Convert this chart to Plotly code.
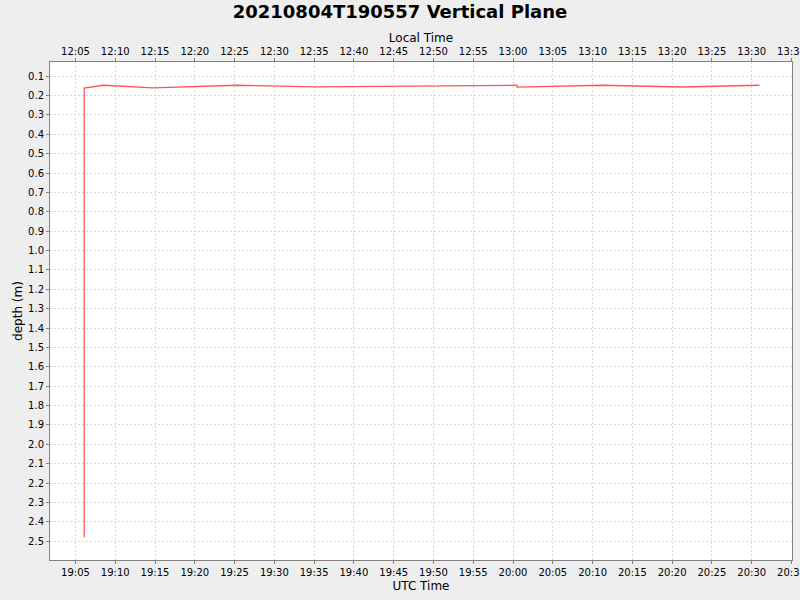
import plotly.graph_objects as go
import pandas as pd

# UTC times of the depth samples
utc_times = [
    "2021-08-04 19:06:06", "2021-08-04 19:06:06", "2021-08-04 19:08:30",
    "2021-08-04 19:14:45", "2021-08-04 19:25:17", "2021-08-04 19:35:08",
    "2021-08-04 20:00:30", "2021-08-04 20:00:31", "2021-08-04 20:11:11",
    "2021-08-04 20:21:13", "2021-08-04 20:30:59",
]
depth_m = [2.479, 0.162, 0.147, 0.161, 0.147, 0.155, 0.147, 0.157, 0.147, 0.156, 0.147]

utc_offset_hours = -7
x_range_utc = ["2021-08-04 19:01:48", "2021-08-04 20:35:04"]
y_range = [2.597, 0.027]

utc = pd.to_datetime(utc_times)
local = utc + pd.Timedelta(hours=utc_offset_hours)
xr = pd.to_datetime(x_range_utc)
xr_local = xr + pd.Timedelta(hours=utc_offset_hours)

FONT = "DejaVu Sans"
AX = "#808080"
GRID = "#D9D9D9"
DASH = "2px,2px"

fig = go.Figure()
fig.add_trace(go.Scatter(x=utc, y=depth_m, mode="lines",
                         line=dict(color="#FF5555", width=1.3),
                         showlegend=False, xaxis="x", yaxis="y"))
fig.add_trace(go.Scatter(x=local, y=depth_m, mode="lines",
                         line=dict(color="rgba(0,0,0,0)", width=0),
                         showlegend=False, hoverinfo="skip", xaxis="x2", yaxis="y"))

common_x = dict(type="date", tickformat="%H:%M", dtick=300000,
                showgrid=True, gridcolor=GRID, griddash=DASH, gridwidth=1,
                showline=True, linecolor=AX, linewidth=1,
                ticks="outside", ticklen=3, tickcolor=AX,
                tickfont=dict(family=FONT, size=10, color="#000000"),
                ticklabeloverflow="allow",
                zeroline=False, automargin=False)

fig.update_layout(
    width=800, height=600,
    paper_bgcolor="#EEEEEE", plot_bgcolor="#FFFFFF",
    margin=dict(l=50, r=8, t=62, b=40),
    font=dict(family=FONT, color="#000000"),
    hovermode=False,
    title=dict(text="<b>20210804T190557 Vertical Plane</b>",
               font=dict(family=FONT, size=18, color="#000000"),
               x=0.5, xanchor="center", yref="container", y=0.98, yanchor="middle",
               automargin=False),
    xaxis=dict(range=list(xr), tick0="2021-08-04 19:05:00",
               title=dict(text="UTC Time", font=dict(family=FONT, size=12), standoff=4),
               **common_x),
    xaxis2=dict(range=list(xr_local), tick0="2021-08-04 12:05:00",
                overlaying="x", side="top", anchor="y",
                title=dict(text="Local Time", font=dict(family=FONT, size=12), standoff=0),
                ticklabelstandoff=-1,
                **common_x),
    yaxis=dict(range=y_range, tick0=0.1, dtick=0.1, tickformat=".1f",
               showgrid=True, gridcolor=GRID, griddash=DASH, gridwidth=1,
               showline=True, linecolor=AX, linewidth=1, mirror=True,
               ticks="outside", ticklen=3, tickcolor=AX,
               tickfont=dict(family=FONT, size=10, color="#000000"),
               title=dict(text="depth (m)", font=dict(family=FONT, size=12), standoff=2),
               zeroline=False, automargin=False),
)

fig.write_html("out.html",
               config={"displayModeBar": False},
               post_script="document.body.style.margin='0';document.body.style.background='#EEEEEE';")
